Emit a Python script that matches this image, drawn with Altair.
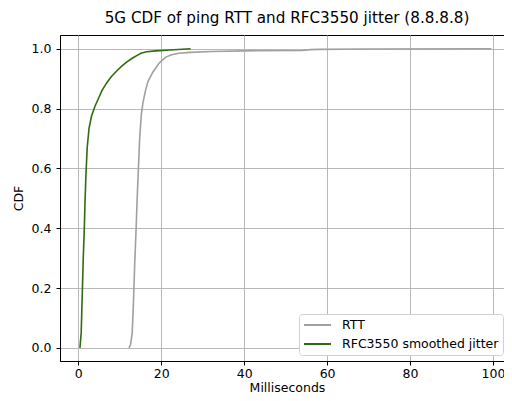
import altair as alt
import pandas as pd

title_text = "5G CDF of ping RTT and RFC3550 jitter (8.8.8.8)"
series_names = ["RTT", "RFC3550 smoothed jitter"]
series_colors = ["#a0a0a0", "#306b0f"]

rtt_ms = [12.2, 12.6, 13.0, 13.3, 13.6, 13.95, 14.2, 14.5, 14.8, 15.2, 15.6, 16.2, 16.8,
          17.9, 19.5, 21.1, 22.5, 24.3, 27.0, 32.0, 40.0, 54.0, 56.0, 58.0, 70.0, 99.6]
rtt_cdf = [0.0, 0.01, 0.05, 0.15, 0.28, 0.40, 0.50, 0.60, 0.70, 0.78, 0.82, 0.86, 0.89,
           0.92, 0.952, 0.972, 0.980, 0.985, 0.988, 0.991, 0.993, 0.994, 0.997, 0.998, 0.999, 1.0]

jit_ms = [0.4, 0.7, 1.0, 1.2, 1.45, 1.65, 1.85, 2.15, 2.6, 3.2, 4.0, 5.0, 5.7, 6.8, 8.0,
          9.2, 10.4, 11.8, 13.1, 14.2, 15.1, 16.5, 18.7, 22.0, 27.1]
jit_cdf = [0.0, 0.05, 0.20, 0.30, 0.40, 0.50, 0.58, 0.67, 0.735, 0.775, 0.807, 0.838, 0.86,
           0.885, 0.907, 0.925, 0.941, 0.957, 0.969, 0.978, 0.985, 0.99, 0.993, 0.996, 1.0]

x_ticks = [0, 20, 40, 60, 80, 100]
y_ticks = [0.0, 0.2, 0.4, 0.6, 0.8, 1.0]

df = pd.concat([
    pd.DataFrame({"ms": rtt_ms, "cdf": rtt_cdf, "series": series_names[0], "order": range(len(rtt_ms))}),
    pd.DataFrame({"ms": jit_ms, "cdf": jit_cdf, "series": series_names[1], "order": range(len(jit_ms))}),
])

font = "DejaVu Sans"

chart = alt.Chart(df).mark_line(strokeWidth=1.6, clip=True).encode(
    x=alt.X("ms:Q", title="Milliseconds",
            scale=alt.Scale(domain=[-4.41, 102.65], nice=False, zero=False),
            axis=alt.Axis(values=x_ticks, format="d", grid=True, titleX=227,
                          titleY=30, titleBaseline="alphabetic", labelPadding=2.5)),
    y=alt.Y("cdf:Q", title="CDF",
            scale=alt.Scale(domain=[-0.044, 1.046], nice=False, zero=False),
            axis=alt.Axis(values=y_ticks, format=".1f", grid=True)),
    color=alt.Color("series:N", sort=series_names,
                    scale=alt.Scale(domain=series_names, range=series_colors),
                    legend=alt.Legend(title=None, orient="none", legendX=239, legendY=279,
                                      symbolType="M-2.25,0H2.25", symbolSize=144,
                                      symbolStrokeWidth=2, symbolOffset=7.5,
                                      fillColor="white", strokeColor="#d0d0d0", cornerRadius=3,
                                      padding=4, rowPadding=5, labelFontSize=12.5, labelFont=font,
                                      labelColor="black", labelOffset=17.5)),
    order="order:Q",
).properties(
    width=444, height=326,
    title=alt.TitleParams(title_text, fontSize=15.2, font=font, fontWeight="normal",
                          color="black", offset=9, anchor="middle", dx=5),
    autosize=alt.AutoSizeParams(type="none"),
    padding={"left": 52, "top": 27, "right": 0, "bottom": 32},
).configure_view(
    stroke="black", strokeWidth=1
).configure_axis(
    domainColor="black", tickColor="black", tickSize=4, labelPadding=4,
    gridColor="#b0b0b0", gridWidth=0.9, labelFont=font, titleFont=font,
    labelFontSize=12.5, titleFontSize=12.5, labelColor="black", titleColor="black",
    titleFontWeight="normal"
).configure_axisY(
    labelPadding=5, titlePadding=6
)

chart.save("out.html", embed_options={"renderer": "svg", "actions": False})
